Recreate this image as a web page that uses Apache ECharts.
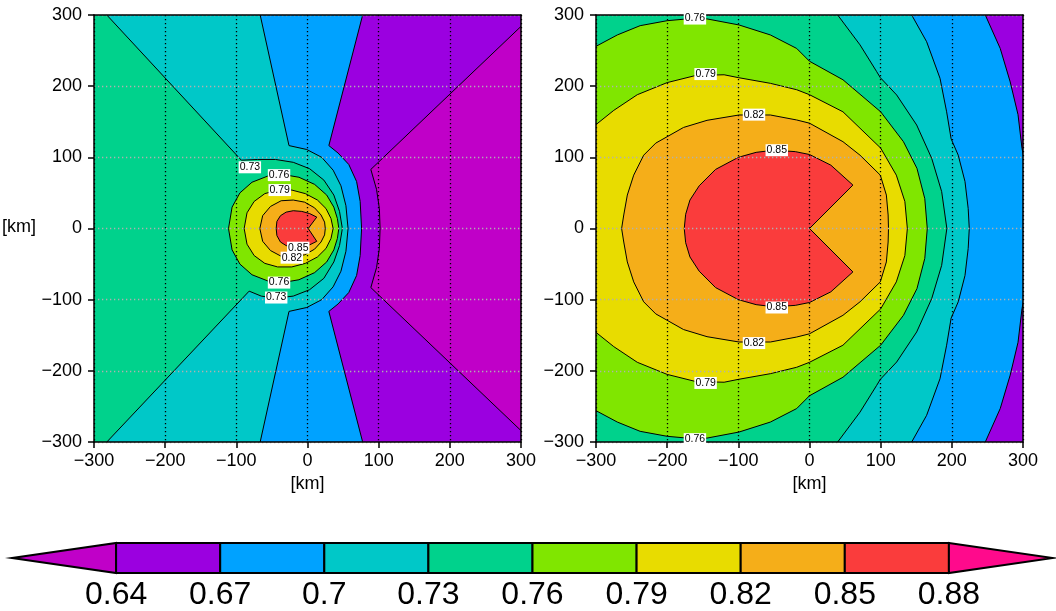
<!DOCTYPE html>
<html><head><meta charset="utf-8">
<script src="https://cdn.jsdelivr.net/npm/echarts@6/dist/echarts.min.js"></script>
<style>html,body{margin:0;padding:0;background:#fff}#c{width:1056px;height:611px}</style>
</head><body><div id="c"></div>
<script>
// ---- colour levels ----
const LEVELS = ['0.64','0.67','0.7','0.73','0.76','0.79','0.82','0.85','0.88'];
const COLORS = ['#c000c8','#9b00e0','#00a2ff','#00c8c8','#00d28c','#80e600','#e8dc00','#f5ae19','#fa3c3c','#ff0a8c'];

// ---- panel (a) contour lines [x km, y km] ----
const a064 = [[300,284],[89,83],[97,55],[101,28],[102,0],[101,-28],[97,-55],[89,-83],[300,-284]];
const a064c = [[310,-284],[310,-310],[-310,-310],[-310,310],[310,310],[310,284]];
const a067 = [[77.5,300],[30,116.5],[43,106],[58,90],[69,66],[74,38],[76,0],[74,-38],[69,-66],[58,-90],[43,-106],[30,-116.5],[77.5,-300]];
const a067c = [[77.5,-310],[-310,-310],[-310,310],[77.5,310]];
const a070 = [[-66.5,300],[-26,116.5],[-1,111],[20,100],[36,82],[47,60],[54,32],[57,0],[54,-32],[47,-60],[36,-82],[20,-100],[-1,-111],[-26,-116.5],[-66.5,-300]];
const a070c = [[-66.5,-310],[-310,-310],[-310,310],[-66.5,310]];
const a073 = [[-282,300],[-93,96],[-70,97],[-45,97],[-20,93],[3,84],[23,68],[37,47],[45,24],[49,0],[45,-24],[37,-47],[23,-70],[3,-86],[-20,-95],[-45,-98],[-65,-95],[-82,-88],[-282,-300]];
const a073c = [[-282,-310],[-310,-310],[-310,310],[-282,310]];
const a076 = [[-111,0],[-106,30],[-95,50],[-78,65],[-55,74],[-35,76],[-12,72],[10,62],[27,47],[37,30],[42,14],[44,0],[42,-14],[37,-30],[27,-47],[10,-62],[-12,-72],[-35,-76],[-55,-74],[-78,-65],[-95,-50],[-106,-30],[-111,0]];
const a079 = [[-89,0],[-85,22],[-75,38],[-60,49],[-42,54],[-22,54],[-3,49],[14,40],[26,28],[33,14],[36,0],[33,-14],[26,-28],[14,-40],[-3,-49],[-22,-54],[-42,-54],[-60,-49],[-75,-38],[-85,-22],[-89,0]];
const a082 = [[-67,0],[-63,18],[-52,31],[-37,39],[-20,40],[-4,37],[10,29],[19,19],[24,9],[25,0],[24,-9],[19,-19],[10,-29],[-4,-37],[-20,-40],[-37,-39],[-52,-31],[-63,-18],[-67,0]];
const a085 = [[-44,0],[-43,10],[-38,18],[-30,23],[-20,25],[-8,24],[3,21],[13,16],[1,0],[13,-18],[3,-23],[-8,-26],[-20,-26.5],[-30,-24],[-38,-19],[-43,-10],[-44,0]];
const aLabels = [[-81,86,'0.73'],[-40,75,'0.76'],[-39,54,'0.79'],[-13,-27,'0.85'],[-22,-41,'0.82'],[-40,-76,'0.76'],[-44,-97,'0.73']];

// ---- panel (b) contour lines ----
const b067 = [[247,300],[268,253],[282,206],[293,160],[298.6,112.6],[303,90],[306,0],[303,-90],[298.6,-112.6],[293,-160],[282,-206],[268,-253],[247,-300]];
const b067c = [[247,-310],[-310,-310],[-310,310],[247,310]];
const b070 = [[143.6,300],[164.6,262.5],[183.4,211],[192.7,164],[199,126],[209,103],[218.5,66],[223,28],[224.5,0],[223,-28],[218.5,-66],[209,-103],[199,-126],[192.7,-164],[183.4,-211],[164.6,-262.5],[143.6,-300]];
const b070c = [[143.6,-310],[-310,-310],[-310,310],[143.6,310]];
const b073 = [[39.6,300],[71,258],[94.4,220.4],[99.5,212],[122.5,187.6],[150.6,145.4],[171.7,98.6],[185.7,51.8],[193,0],[185.7,-51.8],[171.7,-98.6],[150.6,-145.4],[122.5,-187.6],[99.5,-212],[94.4,-220.4],[71,-258],[39.6,-300]];
const b073c = [[39.6,-310],[-310,-310],[-310,310],[39.6,310]];
const b076 = [[-300,256],[-270,272],[-238,285],[-200,292],[-172,294.5],[-144,294.5],[-99,286],[-55,272],[-18,253],[0,235],[47,209],[100,164],[132,122],[151,84.5],[162,42],[165.5,0],[162,-42],[151,-84.5],[132,-122],[100,-164],[47,-209],[0,-235],[-18,-253],[-55,-272],[-99,-286],[-144,-294.5],[-172,-294.5],[-200,-292],[-238,-285],[-270,-272],[-300,-256]];
const b076c = [[-310,-256],[-310,256]];
const b079 = [[-300,146],[-275,166],[-242,188],[-200,205],[-160,215],[-120,216],[-100,212],[-55,204],[-18,195],[0,188],[47,164],[100,113],[122,75],[134,38],[137.5,0],[134,-38],[122,-75],[100,-113],[47,-164],[0,-188],[-18,-195],[-55,-204],[-100,-212],[-120,-216],[-160,-215],[-200,-205],[-242,-188],[-275,-166],[-300,-146]];
const b079c = [[-310,-146],[-310,146]];
const b082 = [[-264,0],[-261,19],[-256,47],[-247,75],[-233,103],[-216,120],[-200,129],[-177,142],[-144,152],[-99,159.5],[-55,159.5],[-18,152.5],[0,148],[47,122],[71,103],[99.5,75],[108,47],[110.5,19],[111,0],[110.5,-19],[108,-47],[99.5,-75],[71,-103],[47,-122],[0,-148],[-18,-152.5],[-55,-159.5],[-99,-159.5],[-144,-152],[-177,-142],[-200,-129],[-216,-120],[-233,-103],[-247,-75],[-256,-47],[-261,-19],[-264,0]];
const b085 = [[-176,0],[-174,20],[-168,40],[-155,60],[-132,83],[-100,100],[-75,107],[-50,110],[-20,108],[0,104],[30,89],[61,61],[0,0],[61,-61],[30,-89],[0,-104],[-20,-108],[-50,-110],[-75,-107],[-100,-100],[-132,-83],[-155,-60],[-168,-40],[-174,-20],[-176,0]];
const bLabels = [[-161,295,'0.76'],[-146,217,'0.79'],[-78,160,'0.82'],[-46,110,'0.85'],[-46,-111,'0.85'],[-78,-161,'0.82'],[-146,-217,'0.79'],[-161,-296,'0.76']];

// fill layers: [line, closing points, colour index]
const layersA = [[a064,a064c,1],[a067,a067c,2],[a070,a070c,3],[a073,a073c,4],[a076,[],5],[a079,[],6],[a082,[],7],[a085,[],8]];
const layersB = [[b067,b067c,2],[b070,b070c,3],[b073,b073c,4],[b076,b076c,5],[b079,b079c,6],[b082,[],7],[b085,[],8]];

const FONT = 'Liberation Sans, Arial, sans-serif';
const minus = v => v < 0 ? '\u2212' + Math.abs(v) : String(v);

function contourSeries(gi, layers) {
  return {
    type: 'custom', xAxisIndex: gi*2, yAxisIndex: gi*2, clip: true, z: 1, silent: true,
    data: layers.map((l, i) => [0, 0, i]),
    encode: {x: 0, y: 1},
    renderItem: function (params, api) {
      const L = layers[api.value(2)];
      const line = L[0].map(p => api.coord(p));
      const poly = L[0].concat(L[1]).map(p => api.coord(p));
      return {type: 'group', children: [
        {type: 'polygon', shape: {points: poly}, style: {fill: COLORS[L[2]], stroke: null}},
        {type: 'polyline', shape: {points: line}, style: {fill: null, stroke: '#000', lineWidth: 1}}
      ]};
    }
  };
}
function labelSeries(gi, labels) {
  return {
    type: 'custom', xAxisIndex: gi*2, yAxisIndex: gi*2, z: 6, silent: true,
    data: labels,
    renderItem: function (params, api) {
      const p = api.coord([api.value(0), api.value(1)]);
      return {type: 'text', x: p[0], y: p[1], style: {text: labels[params.dataIndex][2], fill: '#000', fontSize: 10.5,
        fontFamily: FONT, backgroundColor: '#fff', padding: [1, 1, 0, 1], align: 'center', verticalAlign: 'middle'}};
    }
  };
}

const xAxes = [], yAxes = [];
[0, 1].forEach(gi => {
  xAxes.push({gridIndex: gi, type: 'value', min: -300, max: 300, interval: 100, z: 3, position: 'bottom',
    axisLine: {show: true, onZero: false, lineStyle: {color: '#000', width: 1.5}},
    axisTick: {show: true, length: 6, lineStyle: {color: '#000', width: 1.5}},
    axisLabel: {fontSize: 18, color: '#000', margin: 10, fontFamily: FONT, formatter: minus},
    splitLine: {show: true, lineStyle: {color: '#000', width: 1.3, type: [1.3, 2.7]}},
    name: '[km]', nameLocation: 'middle', nameGap: 28, nameTextStyle: {fontSize: 18, color: '#000', fontFamily: FONT}});
  xAxes.push({gridIndex: gi, type: 'value', min: -300, max: 300, interval: 100, z: 3, position: 'top',
    axisLine: {show: true, onZero: false, lineStyle: {color: '#000', width: 1.5}},
    axisTick: {show: false}, axisLabel: {show: false}, splitLine: {show: false}});
  yAxes.push({gridIndex: gi, type: 'value', min: -300, max: 300, interval: 100, z: 3, position: 'left',
    axisLine: {show: true, onZero: false, lineStyle: {color: '#000', width: 1.5}},
    axisTick: {show: true, length: 6, lineStyle: {color: '#000', width: 1.5}},
    axisLabel: {fontSize: 18, color: '#000', margin: 12, fontFamily: FONT, formatter: minus},
    splitLine: {show: true, lineStyle: {color: '#b0b0b0', width: 1.3, type: [1.3, 2.7]}}});
  yAxes.push({gridIndex: gi, type: 'value', min: -300, max: 300, interval: 100, z: 3, position: 'right',
    axisLine: {show: true, onZero: false, lineStyle: {color: '#000', width: 1.5}},
    axisTick: {show: false}, axisLabel: {show: false}, splitLine: {show: false}});
});
// colour bar axes
xAxes.push({gridIndex: 2, type: 'value', min: -1, max: 9, interval: 1,
  axisLine: {show: false}, axisTick: {show: false}, splitLine: {show: false},
  axisLabel: {fontSize: 32, color: '#000', margin: 6, fontFamily: FONT,
    formatter: v => (v >= 0 && v < LEVELS.length) ? LEVELS[v] : ''}});
yAxes.push({gridIndex: 2, type: 'value', min: 0, max: 1, show: false});

const barSeries = {
  type: 'custom', xAxisIndex: 4, yAxisIndex: 4, silent: true, z: 2,
  data: COLORS.map((c, i) => [i - 1, 0, i]),
  renderItem: function (params, api) {
    const i = api.value(2), n = COLORS.length;
    let pts;
    if (i === 0) pts = [[-1, 0.5], [0, 1], [0, 0]];
    else if (i === n - 1) pts = [[n - 2, 1], [n - 1, 0.5], [n - 2, 0]];
    else pts = [[i - 1, 0], [i - 1, 1], [i, 1], [i, 0]];
    return {type: 'polygon', shape: {points: pts.map(p => api.coord(p))},
      style: {fill: COLORS[i], stroke: '#000', lineWidth: 2, lineJoin: 'miter'}};
  }
};

const chart = echarts.init(document.getElementById('c'));
chart.setOption({
  animation: false,
  textStyle: {fontFamily: FONT},
  grid: [
    {left: 94, top: 15, width: 427, height: 427, show: true, backgroundColor: COLORS[0], borderWidth: 0},
    {left: 596, top: 15, width: 427, height: 427, show: true, backgroundColor: COLORS[1], borderWidth: 0},
    {left: 12, top: 543, width: 1046, height: 35}
  ],
  xAxis: xAxes, yAxis: yAxes,
  graphic: [
    {type: 'text', left: 103, top: 65, style: {text: '(a)', fontSize: 19, fill: '#000', fontFamily: FONT}},
    {type: 'text', left: 608, top: 65, style: {text: '(b)', fontSize: 19, fill: '#000', fontFamily: FONT}},
    {type: 'text', left: 2, top: 218, style: {text: '[km]', fontSize: 18, fill: '#000', fontFamily: FONT}}
  ],
  series: [contourSeries(0, layersA), contourSeries(1, layersB), labelSeries(0, aLabels), labelSeries(1, bLabels), barSeries]
});
</script></body></html>
